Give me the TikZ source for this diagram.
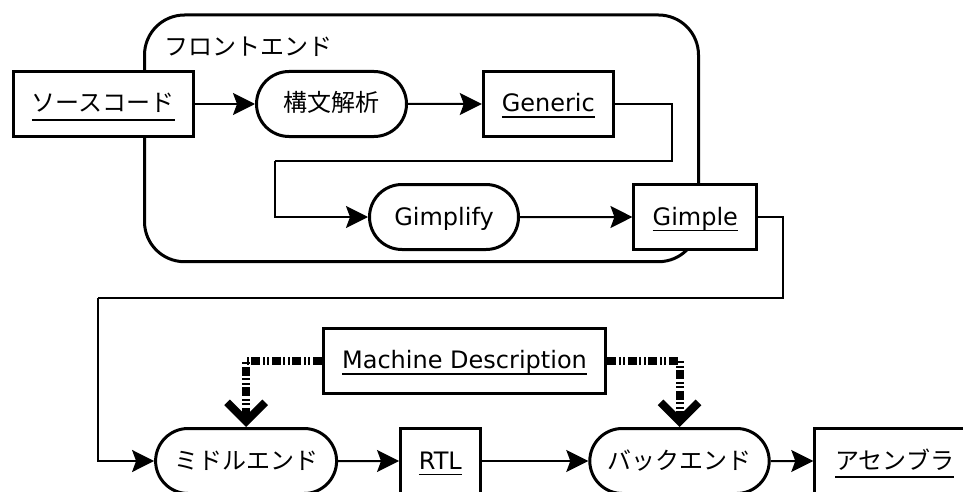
\documentclass[tikz,border=0pt]{standalone}
\usepackage{fontspec}
\setmainfont{DejaVu Sans}
\newfontfamily\jp{Noto Sans CJK JP}
\usetikzlibrary{arrows.meta,shapes.misc}
\newsavebox\ulsave
\newcommand\ulat[2]{\sbox\ulsave{#2}\dp\ulsave=0pt\vtop{\copy\ulsave\kern#1\hrule height 1.6pt width \wd\ulsave}}
\newcommand\ulL[1]{\ulat{4.5pt}{#1}}
\newcommand\ulJ[1]{\ulat{7.2pt}{\jp #1}}
\tikzset{
  base/.style={draw=black, line width=3pt, fill=white, inner sep=0pt,
    minimum height=65pt, text height=20pt, text depth=4pt,
    font=\fontsize{24}{28}\selectfont},
  box/.style={base, rectangle},
  pill/.style={base, rounded rectangle},
  conn/.style={draw=black, line width=2pt, -{Stealth[length=22pt,width=22pt,inset=4pt]}},
  plain/.style={draw=black, line width=2pt},
  mdarrow/.style={draw=black, line width=8pt, line join=miter,
    dash pattern=on 9pt off 2.5pt on 2pt off 2.5pt on 2pt off 2.5pt,
    -{Straight Barb[length=19pt,width=38pt]}},
}
\begin{document}
\begin{tikzpicture}[x=1pt,y=-1pt]
\useasboundingbox (0,0) rectangle (963,492);
\clip (0,0) rectangle (963,492);
% frontend container
\draw[line width=3pt, rounded corners=40pt] (144.5,15) rectangle (698.5,261.7);
\node[anchor=west, inner sep=0pt, font=\fontsize{24}{28}\selectfont\jp] (felabel) at (164,47) {フロントエンド};

\node[box, minimum width=180pt] (src) at (103.3,104) {\ulJ{ソースコード}};
\node[pill, minimum width=150pt] (parse) at (331.5,104) {\jp 構文解析};
\node[box, minimum width=130pt] (gen) at (548.3,104) {\ulL{Generic}};
\node[pill, minimum width=149pt] (gimplify) at (444,217) {Gimplify};
\node[box, minimum width=122.7pt] (gimple) at (695.3,217) {\ulL{Gimple}};
\node[box, minimum width=282.6pt] (md) at (464.5,360.5) {\ulL{Machine Description}};
\node[pill, minimum width=181pt] (mid) at (246.1,461) {\jp ミドルエンド};
\node[box, minimum width=79.5pt] (rtl) at (440.3,461) {\ulL{RTL}};
\node[pill, minimum width=179.4pt] (back) at (679.5,461) {\jp バックエンド};
\node[box, minimum width=160pt] (asm) at (894.8,461) {\ulJ{アセンブラ}};

\coordinate (g1) at (671.7,161);
\coordinate (g2) at (275,161);
\coordinate (h1) at (783,297.5);
\coordinate (h2) at (98.3,297.5);

\draw[conn] (src) -- (parse);
\draw[conn] (parse) -- (gen);
\draw[plain] (gen.east) -| (g1) -- (g2);
\draw[conn] (g2) |- (gimplify.west);
\draw[conn] (gimplify) -- (gimple);
\draw[plain] (gimple.east) -| (h1) -- (h2);
\draw[conn] (h2) |- (mid.west);
\draw[conn] (mid) -- (rtl);
\draw[conn] (rtl) -- (back);
\draw[conn] (back) -- (asm);

\draw[mdarrow] (md.west) -| (mid.north);
\draw[mdarrow] (md.east) -| (back.north);
\end{tikzpicture}
\end{document}
